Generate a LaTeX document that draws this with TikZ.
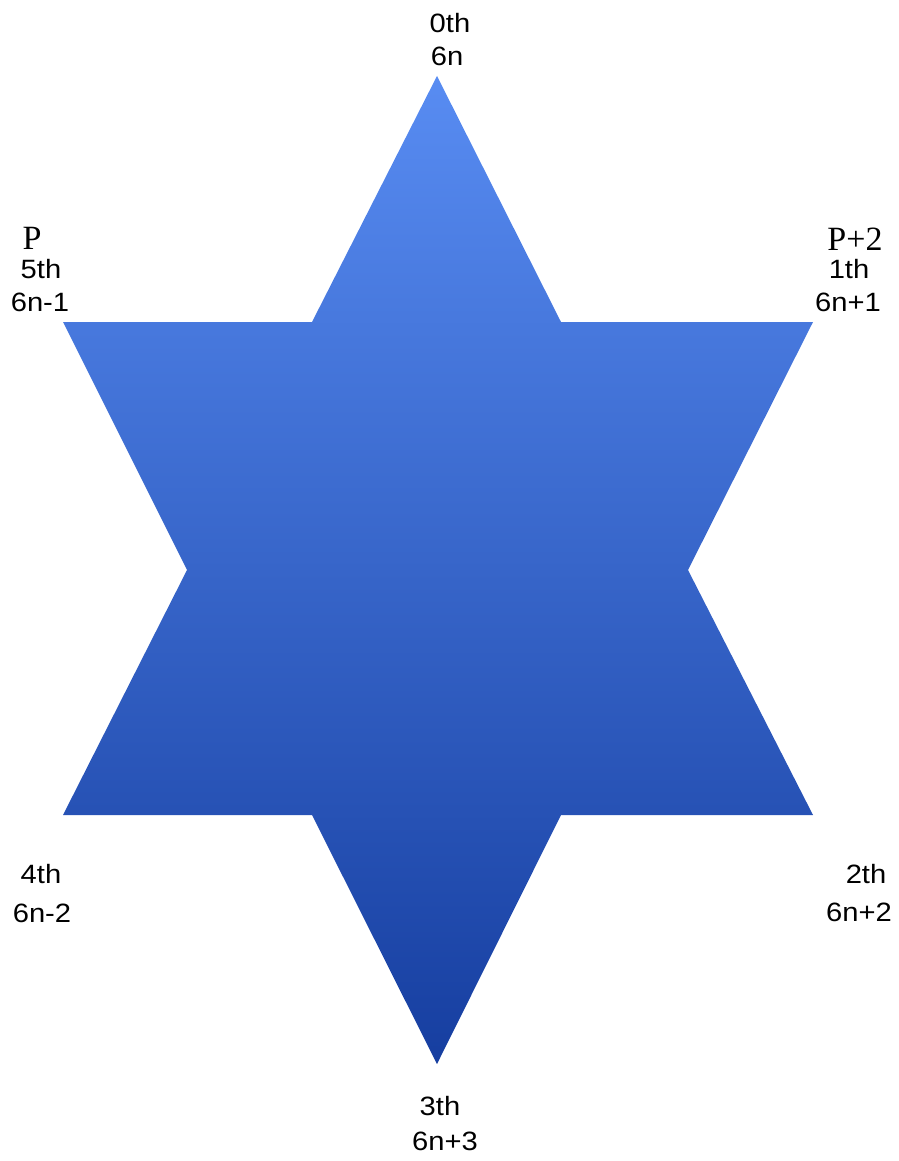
\documentclass[tikz,border=0pt]{standalone}
\usepackage{fontspec}
\setmainfont{Liberation Sans}
\newfontfamily\serifP{Liberation Serif}
\begin{document}
\begin{tikzpicture}[x=1pt,y=-1pt,
  lab/.style={anchor=base,inner sep=0pt,xscale=1.1,font=\fontsize{26.5}{26.5}\selectfont},
  plab/.style={anchor=base,inner sep=0pt,font=\serifP\fontsize{34}{34}\selectfont}]
\useasboundingbox (0,0) rectangle (898,1161);
\definecolor{startop}{RGB}{88,140,242}
\definecolor{starmid}{RGB}{60,114,226}
\definecolor{starbot}{RGB}{22,62,160}
\coordinate (v0) at (437,76);
\coordinate (i1) at (561,322);
\coordinate (v1) at (813,322);
\coordinate (i2) at (688,570);
\coordinate (v2) at (813,815);
\coordinate (i3) at (561,815);
\coordinate (v3) at (437,1064);
\coordinate (i4) at (312,815);
\coordinate (v4) at (63,815);
\coordinate (i5) at (187,570);
\coordinate (v5) at (63,322);
\coordinate (i0) at (312,322);
\shade[top color=startop,middle color=starmid,bottom color=starbot]
  (v0) -- (i1) -- (v1) -- (i2) -- (v2) -- (i3) -- (v3) -- (i4) -- (v4) -- (i5) -- (v5) -- (i0) -- cycle;
\node[lab] (t0a) at (450,33) {0th};
\node[lab] (t0b) at (447,66) {6n};
\node[plab] (p5) at (32,249) {P};
\node[lab] (t5a) at (41,278) {5th};
\node[lab] (t5b) at (40,311) {6n-1};
\node[plab] (p1) at (855,250) {P+2};
\node[lab] (t1a) at (849,278) {1th};
\node[lab] (t1b) at (848,311) {6n+1};
\node[lab] (t4a) at (41,883) {4th};
\node[lab] (t4b) at (42,922) {6n-2};
\node[lab] (t2a) at (866,883) {2th};
\node[lab] (t2b) at (859,921) {6n+2};
\node[lab] (t3a) at (440,1115) {3th};
\node[lab] (t3b) at (445,1150) {6n+3};
\end{tikzpicture}
\end{document}
